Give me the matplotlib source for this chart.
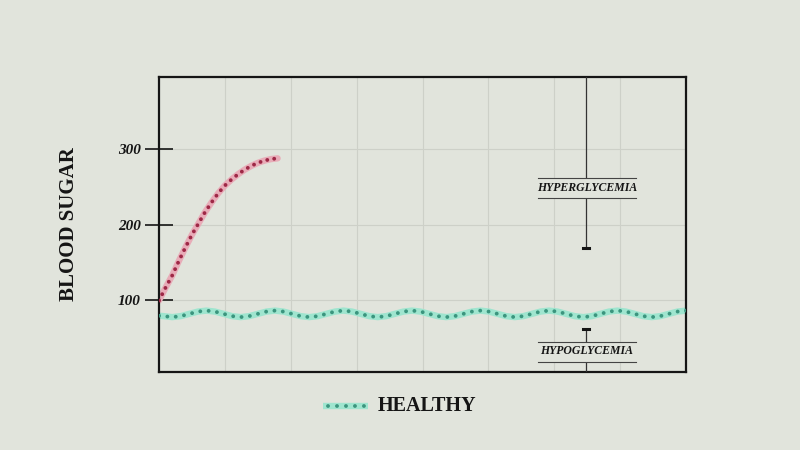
import matplotlib
matplotlib.use("Agg")
import matplotlib.pyplot as plt
from matplotlib.lines import Line2D

# ---- data ----
yticks = [100, 200, 300]
ytick_labels = ["100", "200", "300"]

high_x = [0.0, 0.1, 0.2, 0.3, 0.4, 0.5, 0.6, 0.7, 0.8, 0.9, 1.0, 1.1, 1.2,
          1.3, 1.4, 1.5, 1.6, 1.7, 1.8]
high_y = [100, 117, 133, 152, 170, 187, 202, 217, 230, 242, 252, 260, 267,
          273, 278, 282, 285, 287, 288]

healthy_x = [0.00, 0.07, 0.20, 0.33, 0.46, 0.59, 0.72, 0.85, 0.98, 1.11, 1.24,
             1.37, 1.50, 1.63, 1.76, 1.89, 2.02, 2.15, 2.28, 2.41, 2.54, 2.67,
             2.80, 2.93, 3.06, 3.19, 3.32, 3.45, 3.58, 3.71, 3.84, 3.97, 4.10,
             4.23, 4.36, 4.49, 4.62, 4.75, 4.88, 5.01, 5.14, 5.27, 5.40, 5.53,
             5.66, 5.79, 5.92, 6.05, 6.18, 6.31, 6.44, 6.57, 6.70, 6.83, 6.96,
             7.09, 7.22, 7.35, 7.48, 7.61, 7.74, 7.87, 8.00]
healthy_y = [79.8, 79.3, 78.0, 79.3, 82.3, 85.3, 86.6, 85.3, 82.3,
             79.3, 78.0, 79.3, 82.3, 85.3, 86.6, 85.3, 82.3,
             79.3, 78.0, 79.3, 82.3, 85.3, 86.6, 85.3, 82.3,
             79.3, 78.0, 79.3, 82.3, 85.3, 86.6, 85.3, 82.3,
             79.3, 78.0, 79.3, 82.3, 85.3, 86.6, 85.3, 82.3,
             79.3, 78.0, 79.3, 82.3, 85.3, 86.6, 85.3, 82.3,
             79.3, 78.0, 79.3, 82.3, 85.3, 86.6, 85.3, 82.3,
             79.3, 78.0, 79.3, 82.3, 85.3, 86.6]

hyper_level = 170
hypo_level = 62
marker_x = 6.48
hyper_label = "HYPERGLYCEMIA"
hypo_label = "HYPOGLYCEMIA"
legend_label = "HEALTHY"
ylabel = "BLOOD SUGAR"

# ---- style ----
bg = "#e1e4dc"
red_halo = "#e8acb8"
red_dot = "#9e2846"
green_halo = "#9fe5cf"
green_dot = "#3b957e"
ink = "#151515"
grid_c = "#cdd0c8"

fig = plt.figure(figsize=(8, 4.5), dpi=100, facecolor=bg)
ax = fig.add_axes([159/800, 1-372/450, 527/800, 295/450], facecolor=bg)

ax.set_xlim(0, 8)
ax.set_ylim(5.4, 395.6)

for gx in range(1, 8):
    ax.axvline(gx, color=grid_c, lw=0.8, zorder=0)
for gy in yticks:
    ax.axhline(gy, color=grid_c, lw=0.8, zorder=0)

# curves: light halo + dotted dark overlay
ax.plot(high_x, high_y, color=red_halo, lw=4.6, solid_capstyle="round", zorder=2)
ax.plot(high_x, high_y, color=red_dot, lw=2.8, linestyle=(0, (0.01, 1.8)),
        dash_capstyle="round", zorder=3)
ax.plot(healthy_x, healthy_y, color=green_halo, lw=4.6, solid_capstyle="butt", zorder=2)
ax.plot(healthy_x, healthy_y, color=green_dot, lw=2.8, linestyle=(0, (0.01, 2.15)),
        dash_capstyle="round", zorder=3)

# spines
for s in ax.spines.values():
    s.set_color(ink)
    s.set_linewidth(1.6)

ax.set_xticks([])
ax.set_yticks(yticks)
ax.set_yticklabels(ytick_labels, family="Liberation Serif", style="italic",
                   weight="bold", fontsize=11, color=ink)
ax.tick_params(axis="y", direction="inout", length=20, width=1.2, color=ink, pad=3)

ax.set_ylabel(ylabel, family="Liberation Serif", weight="bold", fontsize=15,
              color=ink, labelpad=28)

# annotations
ax.plot([marker_x, marker_x], [395.6, hyper_level], color="#333333", lw=0.9, zorder=4)
ax.plot([marker_x - 0.04, marker_x + 0.04], [hyper_level, hyper_level],
        color=ink, lw=2.2, zorder=4)
ax.plot([marker_x, marker_x], [hypo_level, 5.4], color="#333333", lw=0.9, zorder=4)
ax.plot([marker_x - 0.04, marker_x + 0.04], [hypo_level, hypo_level],
        color=ink, lw=2.2, zorder=4)


def label_box(y_center_px, text):
    yc = 1 - y_center_px / 450
    xl, xr = 538 / 800, 636 / 800
    fig.patches.append(plt.Rectangle((xl, yc - 10/450), xr - xl, 20/450,
                                     transform=fig.transFigure, facecolor=bg,
                                     edgecolor="none", zorder=5))
    for dy in (-10, 10):
        fig.add_artist(Line2D([xl, xr], [yc + dy/450, yc + dy/450],
                              transform=fig.transFigure, color="#444444",
                              lw=0.8, zorder=6))
    fig.text((xl + xr) / 2, yc, text, ha="center", va="center",
             family="Liberation Serif", style="italic", weight="bold",
             fontsize=8.5, color=ink, zorder=7)


label_box(187.5, hyper_label)
label_box(351.5, hypo_label)

# legend
ly = 1 - 406 / 450
fig.add_artist(Line2D([323/800, 368/800], [ly, ly], transform=fig.transFigure,
                      color=green_halo, lw=4.6, solid_capstyle="butt"))
fig.add_artist(Line2D([328/800, 368/800], [ly, ly], transform=fig.transFigure,
                      color=green_dot, lw=2.8, linestyle=(0, (0.01, 2.3)),
                      dash_capstyle="round"))
fig.text(378/800, ly, legend_label, ha="left", va="center",
         family="Liberation Serif", weight="bold", fontsize=14.5, color=ink)

fig.savefig("out.png", dpi=100, facecolor=bg)
